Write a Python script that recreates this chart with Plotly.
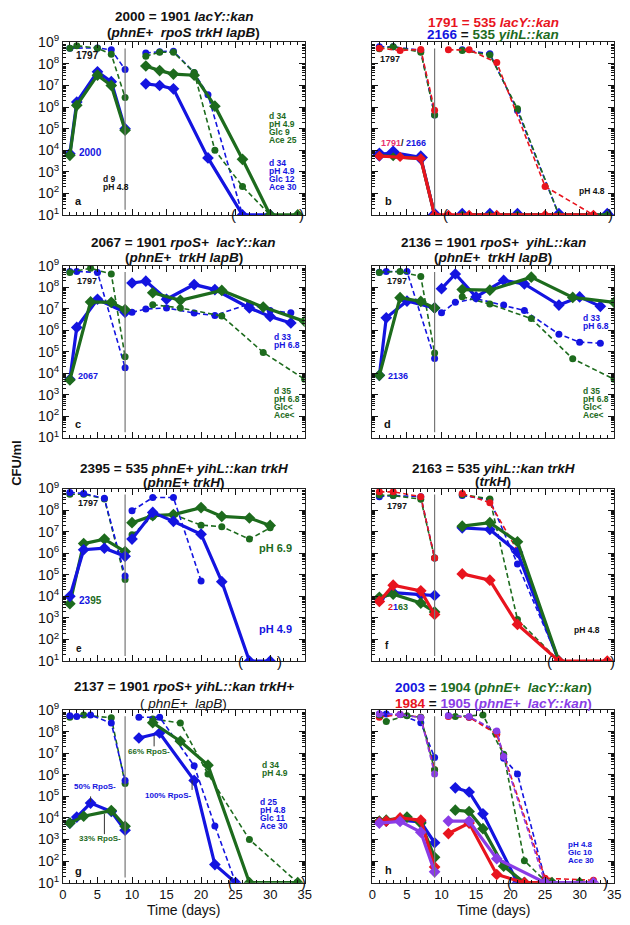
import numpy as np
import plotly.graph_objects as go
from plotly.subplots import make_subplots

FONT = "Liberation Sans, Arial, Helvetica, sans-serif"
BLUE = "#1414e0"
GREEN = "#1d6b1d"
RED = "#e8141e"
PURPLE = "#8a3ce6"
PINK = "#e8306e"
BLACK = "#111111"

shift_day = 9

# ---------------- panel a ----------------
a_1797_blue_days = [1, 5, 7, 9, None, 12, 14, 16, 19, 21, 26]
a_1797_blue_cfu = [5.4e8, 5.5e8, 4.5e8, 5.5e7, None, 3.2e8, 3.7e8, 3.9e8, 3.9e7, 3.7e6, 10]
a_1797_green_days = [1, 2, 5, 7, 9, None, 12, 14, 16, 19, 22, 26, 30]
a_1797_green_cfu = [5.4e8, 7e8, 5.4e8, 2.8e8, 2.8e6, None, 2.3e8, 3.5e8, 3.5e8, 4e7, 1e4, 2.1e2, 10]
a_2000_blue_days = [1, 2, 5, 7, 9, None, 12, 14, 16, 21, 26, 30]
a_2000_blue_cfu = [6.9e3, 1.7e6, 4.3e7, 1.5e7, 1e5, None, 1.2e7, 1e7, 7e6, 4.4e3, 10, 10]
a_2000_green_days = [1, 2, 5, 7, 9, None, 12, 14, 16, 19, 22, 26, 30, 34]
a_2000_green_cfu = [5.8e3, 1.2e6, 3e7, 1e7, 8.5e4, None, 8e7, 4.9e7, 3.4e7, 3e7, 1.1e6, 3.8e3, 10, 10]

# ---------------- panel b ----------------
b_1797_red_days = [1, 4, 7, 9, None, 11, 14, 18, 25, 32]
b_1797_red_cfu = [5.4e8, 4.2e8, 4.7e8, 7.2e5, None, 4.5e8, 4.5e8, 1.15e8, 2.1e2, 10]
b_1797_blue_days = [1, 3, 7, 9, None, 13, 17, 21, 27]
b_1797_blue_cfu = [6.3e8, 6.3e8, 4.2e8, 4.3e5, None, 4.5e8, 3e8, 6.9e5, 10]
b_1797_green_days = [1, 3, 7, 9, None, 13, 17, 21, 27]
b_1797_green_cfu = [5e8, 6.3e8, 3.5e8, 4.3e5, None, 4.2e8, 2.6e8, 8.3e5, 10]
b_2166_blue_days = [1, 3, 7, 9, None, 13, 17, 21, 27, 34]
b_2166_blue_cfu = [6.3e3, 7.8e3, 4.6e3, 10, None, 10, 10, 10, 10, 10]
b_2166_green_days = [1, 3, 7, 9, None, 13, 17, 21, 27, 34]
b_2166_green_cfu = [5.6e3, 5e3, 4.1e3, 10, None, 10, 10, 10, 10, 10]
b_1791_red_days = [1, 4, 7, 9, 11, 14, 18, 25, 32]
b_1791_red_cfu = [5.4e3, 4.9e3, 4.1e3, 10, 10, 10, 10, 10, 10]

# ---------------- panel c ----------------
c_1797_blue_days = [1, 2, 5, 9, None, 10, 12, 15, 19, 22, 27, 30, 33]
c_1797_blue_cfu = [5.5e8, 5.5e8, 5e8, 1.8e4, None, 6.9e6, 9.8e6, 1.1e7, 6.3e6, 4.9e6, 1.7e7, 8.3e6, 6.5e6]
c_1797_green_days = [1, 4, 7, 9, None, 13, 17, 23, 29, 35]
c_1797_green_cfu = [5e8, 7.8e8, 4.2e8, 5.8e4, None, 1.55e7, 1.1e7, 4.6e6, 9.3e4, 5.2e3]
c_2067_blue_days = [1, 2, 5, 9, None, 10, 12, 15, 19, 22, 27, 30, 33]
c_2067_blue_cfu = [5.2e3, 1.35e6, 2.8e7, 6.9e6, None, 1.6e8, 1.95e8, 2.8e7, 1.35e8, 7.9e7, 1.1e7, 4.4e6, 2.2e6]
c_2067_green_days = [1, 4, 7, 9, None, 13, 17, 23, 29, 35]
c_2067_green_cfu = [4.8e3, 2.1e7, 2e7, 9.1e6, None, 5.6e7, 2.5e7, 7.2e7, 1.2e7, 2.6e6]

# ---------------- panel d ----------------
d_1797_blue_days = [1, 2, 5, 9, None, 10, 12, 15, 19, 22, 27, 30, 33]
d_1797_blue_cfu = [5.1e8, 5.5e8, 5.5e8, 4.8e4, None, 6.5e6, 2e7, 3e7, 1.5e7, 8.3e6, 6.6e5, 2.8e5, 2.5e5]
d_1797_green_days = [1, 4, 7, 9, None, 13, 17, 23, 29, 35]
d_1797_green_cfu = [5e8, 5.5e8, 3.2e8, 8.7e4, None, 3.7e7, 1.66e7, 3.5e6, 4.7e4, 5.2e3]
d_2136_blue_days = [1, 2, 5, 9, None, 10, 12, 15, 19, 22, 27, 30, 33]
d_2136_blue_cfu = [7.9e3, 3.8e6, 2.3e7, 1.1e7, None, 8.7e7, 4.2e8, 3.6e7, 2.1e8, 1.45e8, 1.5e7, 3.6e7, 1.3e7]
d_2136_green_days = [1, 4, 7, 9, None, 13, 17, 23, 29, 35]
d_2136_green_cfu = [7.9e3, 3.3e7, 2.2e7, 1.1e7, None, 7.9e7, 7.4e7, 3e8, 3.4e7, 2e7]

# ---------------- panel e ----------------
e_1797_blue_days = [1, 3, 6, 9, None, 10, 13, 16, 20]
e_1797_blue_cfu = [6.6e8, 5.9e8, 3.5e8, 8.9e4, None, 9.3e7, 3.8e8, 3.8e8, 5.2e4]
e_1797_green_days = [1, 3, 6, 9, None, 10, 13, 16, 20, 23, 27, 30]
e_1797_green_cfu = [5.4e8, 5.4e8, 3.3e8, 6e4, None, 7.1e6, 5e7, 6.2e7, 2e7, 1.7e7, 4.5e6, 1.5e7]
e_2395_blue_days = [1, 3, 6, 9, None, 10, 13, 16, 20, 23, 27, 30]
e_2395_blue_cfu = [1e4, 1.45e6, 1.7e6, 7.2e5, None, 4.5e6, 7.8e7, 3e7, 7.6e6, 4.8e4, 10, 10]
e_2395_green_days = [1, 3, 6, 9, None, 10, 13, 16, 20, 23, 27, 30]
e_2395_green_cfu = [4.6e3, 2.8e6, 4.5e6, 1.2e6, None, 2.6e7, 5.5e7, 6.2e7, 1.3e8, 5.1e7, 4.3e7, 1.95e7]

# ---------------- panel f ----------------
f_1797_red_days = [1, 3, 7, 9, None, 13, 17, 21, 27]
f_1797_red_cfu = [7e8, 7e8, 4.2e8, 6e5, None, 5.9e8, 2.2e8, 1.3e6, 10]
f_1797_blue_days = [1, 3, 7, 9, None, 13, 17, 21, 27]
f_1797_blue_cfu = [4.2e8, 4.7e8, 4.2e8, 6e5, None, 4.7e8, 3e8, 3.2e5, 10]
f_1797_green_days = [1, 3, 7, 9, None, 13, 17, 21, 27]
f_1797_green_cfu = [5e8, 4.7e8, 3.2e8, 6e5, None, 5.2e8, 3.3e8, 8.5e2, 10]
f_2163_blue_days = [1, 3, 7, 9, None, 13, 17, 21, 27]
f_2163_blue_cfu = [7.8e3, 1.5e4, 1.2e4, 1.1e4, None, 1.5e7, 1.26e7, 1.1e6, 10]
f_2163_green_days = [1, 3, 7, 9, None, 13, 17, 21, 27]
f_2163_green_cfu = [9.1e3, 1.26e4, 4.9e3, 1.9e3, None, 1.8e7, 2.6e7, 3.4e6, 10]
f_2163_red_days = [1, 3, 7, 9, None, 13, 17, 21, 27, 34]
f_2163_red_cfu = [5.8e3, 3.3e4, 1.8e4, 1.45e3, None, 1.1e5, 5.6e4, 5e2, 10, 10]

# ---------------- panel g ----------------
g_1797_blue_days = [1, 2, 4, 7, 9, None, 11, 14, 19, 22, 25]
g_1797_blue_cfu = [5.5e8, 5.1e8, 5.9e8, 2.5e8, 5.5e5, None, 4.7e8, 4.7e8, 2.6e6, 4.3e3, 10]
g_1797_green_days = [1, 3, 7, 9, None, 13, 17, 21, 27, 34]
g_1797_green_cfu = [4.7e8, 5.9e8, 4.4e8, 4e5, None, 3.9e8, 2.5e8, 1.1e6, 1e3, 10]
g_2137_blue_days = [1, 2, 4, 7, 9, None, 11, 14, 19, 22, 25]
g_2137_blue_cfu = [5.8e3, 1.1e4, 4.9e4, 2e4, 2.7e3, None, 5.1e7, 8.7e7, 5.5e5, 69, 10]
g_2137_green_days = [1, 3, 7, 9, None, 13, 17, 21, 27, 34]
g_2137_green_cfu = [5.8e3, 1.2e4, 2.2e4, 4.1e3, None, 2.6e8, 3.6e7, 2.8e6, 10, 10]

# ---------------- panel h ----------------
h_1797_blue_days = [1, 2, 4, 7, 9, None, 11, 14, 18, 19, 21, 25]
h_1797_blue_cfu = [6.6e8, 6.6e8, 6.2e8, 2.6e8, 6.3e6, None, 5.5e8, 4.7e8, 9.5e7, 5.9e6, 1.1e6, 14]
h_1797_red_days = [1, 4, 7, 9, None, 11, 14, 18, 19, 25, 32]
h_1797_red_cfu = [4.7e8, 6.2e8, 4.7e8, 1.7e6, None, 5.1e8, 4.7e8, 7.6e7, 8.3e6, 16, 13]
h_1797_green_days = [1, 2, 5, 7, 9, None, 12, 16, 19, 22, 25]
h_1797_green_cfu = [5.9e8, 3e8, 5.5e8, 4.7e8, 1.7e6, None, 5e8, 5.9e8, 9e6, 1.05e2, 12]
h_1797_purple_days = [1, 4, 7, 9, None, 11, 14, 18, 19, 25]
h_1797_purple_cfu = [6.6e8, 6.2e8, 4.4e8, 1.1e6, None, 5.5e8, 5e8, 1.07e8, 7e6, 10]
h_2003_blue_days = [1, 2, 4, 7, 9, None, 12, 14, 16, 21, 22]
h_2003_blue_cfu = [6.5e3, 7.2e3, 8e3, 6.5e3, 7.1e2, None, 2.5e5, 1.6e5, 1.55e4, 10, 10]
h_1904_green_days = [1, 2, 5, 7, 9, None, 12, 14, 16, 19, 22, 26, 30]
h_1904_green_cfu = [7.2e3, 7.9e3, 1.1e4, 5.8e3, 1.5e2, None, 2.3e4, 2e4, 3.2e3, 58, 10, 10, 10]
h_1984_red_days = [1, 2, 4, 7, 9, None, 11, 14, 18, 22, 25]
h_1984_red_cfu = [6.5e3, 7.2e3, 1e4, 7.9e3, 54, None, 1.9e3, 5.8e3, 24, 10, 10]
h_1905_purple_days = [1, 4, 7, 9, None, 11, 14, 18, 25, 32]
h_1905_purple_cfu = [5.8e3, 6.9e3, 2.2e3, 32, None, 7.2e3, 7.2e3, 1.3e2, 10, 10]

x_ticks = [0, 5, 10, 15, 20, 25, 30, 35]
y_exponents = [1, 2, 3, 4, 5, 6, 7, 8, 9]

# series table built from the lists above: (days, cfu, color, dashed, marker size)
SERIES = {
    1: [(a_1797_blue_days, a_1797_blue_cfu, BLUE, True, 7),
        (a_1797_green_days, a_1797_green_cfu, GREEN, True, 7),
        (a_2000_blue_days, a_2000_blue_cfu, BLUE, False, 9),
        (a_2000_green_days, a_2000_green_cfu, GREEN, False, 9)],
    2: [(b_1797_blue_days, b_1797_blue_cfu, BLUE, True, 7),
        (b_1797_green_days, b_1797_green_cfu, GREEN, True, 7),
        (b_1797_red_days, b_1797_red_cfu, RED, True, 7),
        (b_2166_blue_days, b_2166_blue_cfu, BLUE, False, 11),
        (b_2166_green_days, b_2166_green_cfu, GREEN, False, 7),
        (b_1791_red_days, b_1791_red_cfu, RED, False, 8)],
    3: [(c_1797_blue_days, c_1797_blue_cfu, BLUE, True, 7),
        (c_1797_green_days, c_1797_green_cfu, GREEN, True, 7),
        (c_2067_blue_days, c_2067_blue_cfu, BLUE, False, 9),
        (c_2067_green_days, c_2067_green_cfu, GREEN, False, 9)],
    4: [(d_1797_blue_days, d_1797_blue_cfu, BLUE, True, 7),
        (d_1797_green_days, d_1797_green_cfu, GREEN, True, 7),
        (d_2136_blue_days, d_2136_blue_cfu, BLUE, False, 9),
        (d_2136_green_days, d_2136_green_cfu, GREEN, False, 9)],
    5: [(e_1797_green_days, e_1797_green_cfu, GREEN, True, 7),
        (e_1797_blue_days, e_1797_blue_cfu, BLUE, True, 7),
        (e_2395_green_days, e_2395_green_cfu, GREEN, False, 9),
        (e_2395_blue_days, e_2395_blue_cfu, BLUE, False, 9)],
    6: [(f_1797_blue_days, f_1797_blue_cfu, BLUE, True, 7),
        (f_1797_green_days, f_1797_green_cfu, GREEN, True, 7),
        (f_1797_red_days, f_1797_red_cfu, RED, True, 7),
        (f_2163_blue_days, f_2163_blue_cfu, BLUE, False, 9),
        (f_2163_green_days, f_2163_green_cfu, GREEN, False, 9),
        (f_2163_red_days, f_2163_red_cfu, RED, False, 9)],
    7: [(g_1797_green_days, g_1797_green_cfu, GREEN, True, 7),
        (g_1797_blue_days, g_1797_blue_cfu, BLUE, True, 7),
        (g_2137_blue_days, g_2137_blue_cfu, BLUE, False, 9),
        (g_2137_green_days, g_2137_green_cfu, GREEN, False, 9)],
    8: [(h_1797_blue_days, h_1797_blue_cfu, BLUE, True, 7),
        (h_1797_red_days, h_1797_red_cfu, RED, True, 7),
        (h_1797_green_days, h_1797_green_cfu, GREEN, True, 7),
        (h_1797_purple_days, h_1797_purple_cfu, PURPLE, True, 7),
        (h_2003_blue_days, h_2003_blue_cfu, BLUE, False, 9),
        (h_1904_green_days, h_1904_green_cfu, GREEN, False, 9),
        (h_1984_red_days, h_1984_red_cfu, RED, False, 9),
        (h_1905_purple_days, h_1905_purple_cfu, PURPLE, False, 9)],
}


def sp(c, t):
    return f"<span style='color:{c}'>{t}</span>"


TITLES = {
    1: ("<b>2000 = 1901 <i>lacY::kan</i></b>", "<b>(<i>phnE+  rpoS trkH lapB</i>)</b>", 25.5, 10),
    2: ("<b>" + sp(RED, "1791 = 535 <i>lacY::kan</i>") + "</b>",
        "<b>" + sp(BLUE, "2166") + " = " + sp(GREEN, "535 <i>yihL::kan</i>") + "</b>", 20, 7.5),
    3: ("<b>2067 = 1901 <i>rpoS+  lacY::kan</i></b>", "<b>(<i>phnE+  trkH lapB</i>)</b>", 23, 8),
    4: ("<b>2136 = 1901 <i>rpoS+  yihL::kan</i></b>", "<b>(<i>phnE+  trkH lapB</i>)</b>", 23.5, 8.5),
    5: ("<b>2395 = 535 <i>phnE+ yihL::kan trkH</i></b>", "<b>(<i>phnE+ trkH</i>)</b>", 20.5, 6),
    6: ("<b>2163 = 535 <i>yihL::kan trkH</i></b>", "<b>(<i>trkH</i>)</b>", 20.5, 7),
    7: ("<b>2137 = 1901 <i>rpoS+ yihL::kan trkH+</i></b>", "( <i>phnE+  lapB</i>)", 24, 7),
    8: ("<b>" + sp(BLUE, "2003") + " = " + sp(GREEN, "1904 (<i>phnE+  lacY::kan</i>)") + "</b>",
        "<b>" + sp(RED, "1984") + " = " + sp(PURPLE, "1905 (<i>phnE+  lacY::kan</i>)") + "</b>", 23, 6.5),
}

# text notes: (panel, day, log10 y, lines, color, size, xanchor)
NOTES = [
    (1, 3.55, 8.39, ["1797"], BLACK, 10, "center"),
    (1, 2.0, 3.89, ["2000"], BLUE, 10, "left"),
    (1, 5.5, 2.67, ["d 9", "pH 4.8"], BLACK, 8.5, "left"),
    (1, 2.3, 1.64, ["a"], BLACK, 11, "center"),
    (1, 29.6, 5.59, ["d 34", "pH 4.9", "Glc 9", "Ace 25"], GREEN, 8.5, "left"),
    (1, 29.6, 3.39, ["d 34", "pH 4.9", "Glc 12", "Ace 30"], BLUE, 8.5, "left"),
    (2, 2.5, 8.24, ["1797"], BLACK, 9, "center"),
    (2, 0.9, 4.33, [sp(PINK, "1791") + "/ " + sp(BLUE, "2166")], BLACK, 9, "left"),
    (2, 2.3, 1.64, ["b"], BLACK, 11, "center"),
    (2, 29.6, 2.1, ["pH 4.8"], BLACK, 8.5, "left"),
    (3, 3.5, 8.29, ["1797"], BLACK, 9, "center"),
    (3, 1.95, 3.87, ["2067"], BLUE, 9, "left"),
    (3, 2.2, 1.62, ["c"], BLACK, 11, "center"),
    (3, 30.2, 5.7, ["d 33", "pH 6.8"], BLUE, 8.5, "left"),
    (3, 30.2, 3.16, ["d 35", "pH 6.8", "Glc<", "Ace<"], GREEN, 8.5, "left"),
    (4, 3.5, 8.29, ["1797"], BLACK, 9, "center"),
    (4, 1.95, 3.87, ["2136"], BLUE, 9, "left"),
    (4, 2.2, 1.62, ["d"], BLACK, 11, "center"),
    (4, 30.2, 6.57, ["d 33", "pH 6.8"], BLUE, 8.5, "left"),
    (4, 30.2, 3.16, ["d 35", "pH 6.8", "Glc<", "Ace<"], GREEN, 8.5, "left"),
    (5, 3.56, 8.35, ["1797"], BLACK, 9, "center"),
    (5, 2.0, 3.8, [sp(BLUE, "23") + sp(GREEN, "95")], BLACK, 10, "left"),
    (5, 2.3, 1.6, ["e"], BLACK, 10, "center"),
    (5, 28.1, 6.22, ["pH 6.9"], GREEN, 11, "left"),
    (5, 28.1, 2.47, ["pH 4.9"], BLUE, 11, "left"),
    (6, 3.5, 8.2, ["1797"], BLACK, 9, "center"),
    (6, 2.0, 3.5, [sp(RED, "2") + sp(BLUE, "1") + sp(GREEN, "63")], BLACK, 9, "left"),
    (6, 2.05, 1.72, ["f"], BLACK, 10, "center"),
    (6, 28.9, 2.43, ["pH 4.8"], BLACK, 8.5, "left"),
    (7, 4.7, 5.45, ["50% RpoS-"], BLUE, 8, "center"),
    (7, 5.4, 3.05, ["33% RpoS-"], GREEN, 8, "center"),
    (7, 12.5, 7.1, ["66% RpoS-"], GREEN, 8, "center"),
    (7, 15.3, 5.02, ["100% RpoS-"], BLUE, 8, "center"),
    (7, 2.3, 1.53, ["g"], BLACK, 11, "center"),
    (7, 28.5, 6.47, ["d 34", "pH 4.9"], GREEN, 8.5, "left"),
    (7, 28.2, 4.72, ["d 25", "pH 4.8", "Glc 11", "Ace 30"], BLUE, 8.5, "left"),
    (8, 2.3, 1.6, ["h"], BLACK, 11, "center"),
    (8, 28.0, 2.79, ["pH 4.8", "Glc 10", "Ace 30"], BLUE, 8, "left"),
]

# parentheses at detection limit: (panel, open day, close day)
PARENS = [(1, 24.7, 34.6), (2, 10.6, 34.4), (5, 25.7, 31.4), (6, 25.7, 34.7),
          (7, 24.2, 34.85), (8, 19.8, 33.7)]

# leader lines in g: (day, log y from, log y to)
LEADERS = [(4.0, 5.0, 4.75), (6.0, 4.19, 3.25), (13.2, 7.83, 7.32), (18.7, 5.75, 5.3)]

# layout geometry (pixels in a 630 x 925 figure)
W, H = 630, 925
col_px = [(60, 306), (375, 621)]
row_px = [(33, 209), (261, 436), (488, 664), (714, 890)]

fig = make_subplots(rows=4, cols=2)

for p in range(1, 9):
    r = (p - 1) // 2 + 1
    c = (p - 1) % 2 + 1
    for days, cfu, color, dashed, ms in SERIES[p]:
        fig.add_trace(go.Scatter(
            x=days, y=cfu, mode="lines+markers", connectgaps=False,
            line=dict(color=color, width=1.6 if dashed else 3.2,
                      dash="5px,3px" if dashed else "solid"),
            marker=dict(symbol="circle" if dashed else "diamond", size=ms, color=color,
                        line=dict(width=0)),
            showlegend=False, hoverinfo="skip"), row=r, col=c)

minor_y = [m * 10 ** k for k in range(1, 9) for m in range(2, 10)]

for p in range(1, 9):
    r = (p - 1) // 2
    c = (p - 1) % 2
    x0, x1 = col_px[c]
    t0, t1 = row_px[r]
    sfx = "" if p == 1 else str(p)
    fig.layout["xaxis" + sfx].update(
        domain=[x0 / W, x1 / W], range=[0, 35], tickvals=x_ticks,
        ticks="inside", ticklen=6, tickcolor=BLACK, mirror="allticks",
        showline=True, linecolor="#222", linewidth=1, showgrid=False, zeroline=False,
        showticklabels=(p >= 7), tickfont=dict(family=FONT, size=13, color=BLACK),
        minor=dict(ticks="inside", ticklen=3, dtick=1, tick0=0, tickcolor=BLACK, showgrid=False))
    fig.layout["yaxis" + sfx].update(
        domain=[1 - t1 / H, 1 - t0 / H], type="log", range=[1, 9],
        tickvals=[10 ** e for e in y_exponents],
        ticktext=[f"10<sup>{e}</sup>" for e in y_exponents],
        ticks="inside", ticklen=6, tickcolor=BLACK, mirror="allticks",
        showline=True, linecolor="#222", linewidth=1, showgrid=False, zeroline=False,
        showticklabels=(c == 0), tickfont=dict(family=FONT, size=14, color=BLACK),
        minor=dict(ticks="inside", ticklen=3, tickvals=minor_y, tickcolor=BLACK, showgrid=False))

    # shift line
    fig.add_shape(type="line", xref="x" + sfx, yref=f"y{sfx} domain",
                  x0=shift_day, x1=shift_day, y0=0.03, y1=0.965,
                  line=dict(color="#777", width=1.2))

    # titles
    l1, l2, o1, o2 = TITLES[p]
    xm = (x0 + x1) / 2 / W
    for txt, off in ((l1, o1), (l2, o2)):
        fig.add_annotation(xref="paper", yref="paper", x=xm, y=1 - t0 / H, text=txt,
                           yshift=off, showarrow=False, xanchor="center", yanchor="middle",
                           font=dict(family=FONT, size=13.5, color=BLACK))

for p, day, ly, lines, color, size, xa in NOTES:
    sfx = "" if p == 1 else str(p)
    for j, ln in enumerate(lines):
        fig.add_annotation(xref="x" + sfx, yref="y" + sfx, x=day, y=ly,
                           text=f"<b>{ln}</b>", yshift=-j * 8, showarrow=False,
                           xanchor=xa, yanchor="middle",
                           font=dict(family=FONT, size=size, color=color))

for p, d_open, d_close in PARENS:
    sfx = "" if p == 1 else str(p)
    for d, ch in ((d_open, "("), (d_close, ")")):
        fig.add_annotation(xref="x" + sfx, yref="y" + sfx, x=d, y=1.0, text=ch,
                           showarrow=False, xanchor="center", yanchor="middle",
                           font=dict(family=FONT, size=15, color=BLACK))

for d, ya, yb in LEADERS:
    fig.add_shape(type="line", xref="x7", yref="y7 domain", x0=d, x1=d,
                  y0=(ya - 1) / 8, y1=(yb - 1) / 8, line=dict(color="#333", width=1))

# axis labels
for c in range(2):
    x0, x1 = col_px[c]
    fig.add_annotation(xref="paper", yref="paper", x=(x0 + x1) / 2 / W, y=1 - 918 / H,
                       text="Time (days)", showarrow=False, xanchor="center", yanchor="middle",
                       font=dict(family=FONT, size=14, color=BLACK))
fig.add_annotation(xref="paper", yref="paper", x=12 / W, y=1 - 462 / H, text="<b>CFU/ml</b>",
                   textangle=-90, showarrow=False, xanchor="center", yanchor="middle",
                   font=dict(family=FONT, size=13, color=BLACK))

fig.update_layout(width=W, height=H, margin=dict(l=0, r=0, t=0, b=0),
                  paper_bgcolor="white", plot_bgcolor="white", showlegend=False,
                  font=dict(family=FONT, color=BLACK))

fig.write_html("out.html",
               config={"displayModeBar": False, "staticPlot": True},
               post_script="document.body.style.margin='0px';"
                           "document.documentElement.style.overflow='hidden';")
